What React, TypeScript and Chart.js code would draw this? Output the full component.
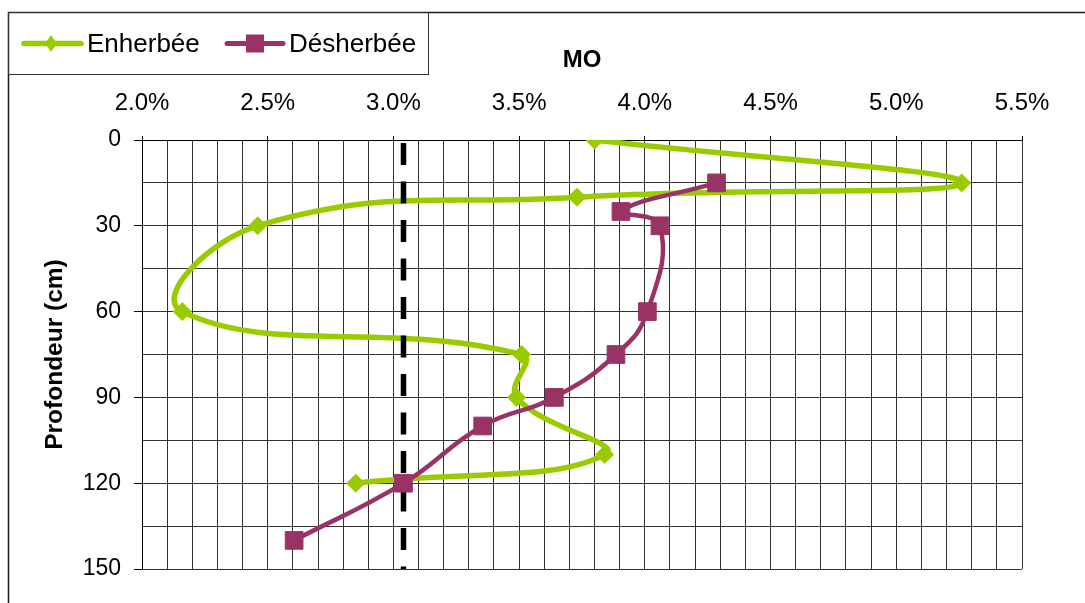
import React, { useEffect, useRef } from 'react';
import { Chart, registerables } from 'chart.js';

Chart.register(...registerables);

// ---- Data ----
const depthEnherbee = [0, 15, 20, 30, 60, 75, 90, 110, 120];
const moEnherbee = [3.8, 5.26, 3.73, 2.46, 2.16, 3.51, 3.49, 3.84, 2.85];
const depthDesherbee = [15, 25, 30, 60, 75, 90, 100, 120, 140];
const moDesherbee = [4.285, 3.905, 4.06, 4.01, 3.885, 3.64, 3.355, 3.04, 2.605];
const refDepth = [0, 150];
const refMO = [3.04, 3.04];
const seriesLabels = ['Enherbée', 'Désherbée'];
const xTitle = 'MO';
const yTitle = 'Profondeur (cm)';
const xMin = 2.0;
const xMax = 5.5;
const yMin = 0;
const yMax = 150;

const GREEN = '#99CC00';
const PURPLE = '#993366';
const GRID = '#333333';
const FONT = "'Liberation Sans', Arial, sans-serif";

const framePlugin = {
  id: 'frameLegend',
  afterDraw(chart: any) {
    const ctx = chart.ctx as CanvasRenderingContext2D;
    ctx.save();
    // outer frame
    ctx.strokeStyle = '#1a1a1a';
    ctx.lineWidth = 1.5;
    ctx.strokeRect(8.5, 12.5, 2000, 2000);
    // legend box
    ctx.lineWidth = 1;
    ctx.strokeStyle = '#333';
    ctx.strokeRect(8.5, 12.5, 420, 62);

    const ly = 43.5;
    // entry 1
    ctx.strokeStyle = GREEN;
    ctx.lineWidth = 5.5;
    ctx.lineCap = 'round';
    ctx.beginPath();
    ctx.moveTo(24, ly);
    ctx.lineTo(81, ly);
    ctx.stroke();
    ctx.fillStyle = GREEN;
    ctx.beginPath();
    ctx.moveTo(45, ly);
    ctx.lineTo(51, ly - 8.5);
    ctx.lineTo(57, ly);
    ctx.lineTo(51, ly + 8.5);
    ctx.closePath();
    ctx.fill();
    // entry 2
    ctx.strokeStyle = PURPLE;
    ctx.lineWidth = 5;
    ctx.beginPath();
    ctx.moveTo(227, ly);
    ctx.lineTo(283, ly);
    ctx.stroke();
    ctx.fillStyle = PURPLE;
    ctx.fillRect(246, ly - 9, 18, 18);

    ctx.fillStyle = '#000';
    ctx.font = `26px ${FONT}`;
    ctx.textBaseline = 'middle';
    ctx.textAlign = 'left';
    ctx.fillText(seriesLabels[0], 87, ly + 1);
    ctx.fillText(seriesLabels[1], 289, ly + 1);
    ctx.restore();
  },
};

export default function App() {
  const canvasRef = useRef<HTMLCanvasElement | null>(null);

  useEffect(() => {
    const canvas = canvasRef.current;
    if (!canvas) return;
    const chart = new Chart(canvas, {
      type: 'scatter',
      data: {
        datasets: [
          {
            label: seriesLabels[0],
            data: depthEnherbee.map((d, i) => ({ x: moEnherbee[i], y: d })),
            showLine: true,
            borderColor: GREEN,
            backgroundColor: GREEN,
            borderWidth: 5.5,
            tension: 0.45,
            pointStyle: 'rectRot',
            pointRadius: 9,
            pointBorderWidth: 1,
            pointBorderColor: GREEN,
            pointBackgroundColor: GREEN,
            order: 2,
          },
          {
            label: seriesLabels[1],
            data: depthDesherbee.map((d, i) => ({ x: moDesherbee[i], y: d })),
            showLine: true,
            borderColor: PURPLE,
            backgroundColor: PURPLE,
            borderWidth: 4.5,
            tension: 0.45,
            pointStyle: 'rect',
            pointRadius: 12.5,
            pointBorderWidth: 1,
            pointBorderColor: PURPLE,
            pointBackgroundColor: PURPLE,
            order: 0,
          },
          {
            label: 'ref',
            data: refDepth.map((d, i) => ({ x: refMO[i], y: d })),
            showLine: true,
            borderColor: '#000',
            borderWidth: 5.5,
            borderDash: [22, 16.5],
            borderDashOffset: 35.5,
            borderCapStyle: 'butt',
            pointRadius: 0,
            tension: 0,
            order: 1,
          },
        ],
      },
      options: {
        responsive: false,
        animation: false,
        layout: { padding: { left: 0, top: 0, right: 63, bottom: 34 } },
        plugins: {
          legend: { display: false },
          tooltip: { enabled: false },
          title: { display: false },
        },
        scales: {
          x: {
            type: 'linear',
            position: 'top',
            min: xMin,
            max: xMax,
            ticks: {
              stepSize: 0.1,
              autoSkip: false,
              maxRotation: 0,
              padding: 18,
              color: '#000',
              font: { family: FONT, size: 24 },
              callback: (v: any) => {
                const r = Math.round(Number(v) * 10);
                return r % 5 === 0 ? (r / 10).toFixed(1) + '%' : '';
              },
            },
            grid: {
              color: GRID,
              lineWidth: 1,
              tickLength: 4,
              tickColor: (c: any) =>
                c.tick && Math.round(c.tick.value * 10) % 5 === 0 ? '#000' : 'rgba(0,0,0,0)',
            },
            border: { color: '#000', width: 1 },
            title: {
              display: true,
              text: xTitle,
              color: '#000',
              font: { family: FONT, size: 24, weight: 'bold' },
              padding: { top: 46, bottom: 0 },
            },
            afterFit: (s: any) => {
              s.height = 140;
            },
          },
          y: {
            type: 'linear',
            reverse: true,
            min: yMin,
            max: yMax,
            ticks: {
              stepSize: 15,
              autoSkip: false,
              padding: 13,
              color: '#000',
              font: { family: FONT, size: 23 },
              callback: (v: any) => (Number(v) % 30 === 0 ? String(v) : ''),
            },
            grid: {
              color: GRID,
              lineWidth: 1,
              tickLength: 8,
              tickColor: (c: any) =>
                c.tick && c.tick.value % 30 === 0 ? '#000' : 'rgba(0,0,0,0)',
            },
            border: { color: '#000', width: 1 },
            title: {
              display: true,
              text: yTitle,
              color: '#000',
              font: { family: FONT, size: 24.5, weight: 'bold' },
              padding: { top: 41, bottom: 0 },
            },
            afterFit: (s: any) => {
              s.width = 142;
            },
          },
        },
      } as any,
      plugins: [framePlugin],
    });
    return () => chart.destroy();
  }, []);

  return (
    <div style={{ position: 'absolute', left: 0, top: 0, width: 1085, height: 603, background: '#fff' }}>
      <canvas ref={canvasRef} width={1085} height={603} />
    </div>
  );
}
